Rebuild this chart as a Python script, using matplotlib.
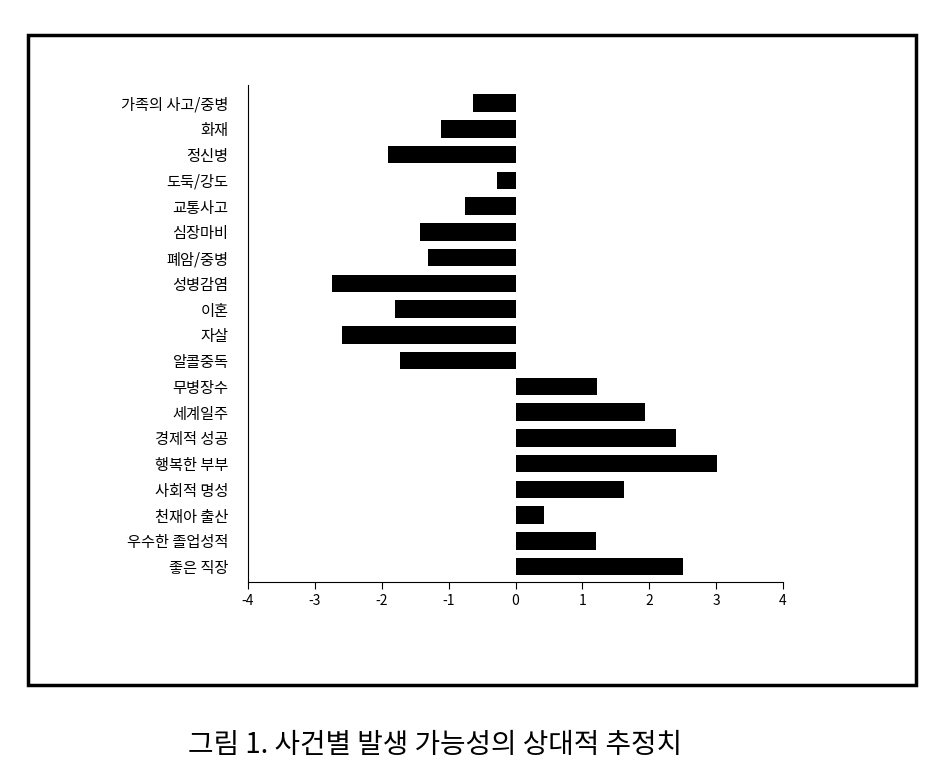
import matplotlib
matplotlib.use("Agg")
import matplotlib.pyplot as plt
from matplotlib.patches import Rectangle

plt.rcParams['font.family'] = ['Noto Sans CJK KR', 'DejaVu Sans']

labels = ["가족의 사고/중병", "화재", "정신병", "도둑/강도", "교통사고", "심장마비", "폐암/중병",
          "성병감염", "이혼", "자살", "알콜중독", "무병장수", "세계일주", "경제적 성공",
          "행복한 부부", "사회적 명성", "천재아 출산", "우수한 졸업성적", "좋은 직장"]
values = [-0.63, -1.12, -1.9, -0.27, -0.76, -1.43, -1.31, -2.75, -1.8, -2.6, -1.73,
          1.22, 1.93, 2.4, 3.02, 1.62, 0.42, 1.2, 2.5]
ticks = [-4, -3, -2, -1, 0, 1, 2, 3, 4]

fig = plt.figure(figsize=(9.41, 7.7), dpi=100)
fig.patches.append(Rectangle((28/941, 1-685/770), (916-28)/941, (685-35)/770,
                             transform=fig.transFigure, fill=False, lw=2.5, color='black'))
ax = fig.add_axes([248/941, 1-582/770, 535/941, (582-85)/770])
y = list(range(len(labels)))
ax.barh(y, values, height=0.68, color='black')
ax.set_yticks(y)
ax.set_yticklabels(labels, fontsize=11)
ax.tick_params(axis='y', length=0, pad=14)
ax.set_ylim(len(labels)-0.4, -0.7)
ax.set_xlim(-4, 4)
ax.set_xticks(ticks)
ax.set_xticklabels([str(t) for t in ticks], fontsize=10)
ax.tick_params(axis='x', direction='out', length=5)
for s in ['top', 'right']:
    ax.spines[s].set_visible(False)
fig.text(435/941, 1-745/770, "그림 1. 사건별 발생 가능성의 상대적 추정치", ha='center', va='center',
         fontsize=20, fontweight='medium')
fig.savefig("out.png", dpi=100)
